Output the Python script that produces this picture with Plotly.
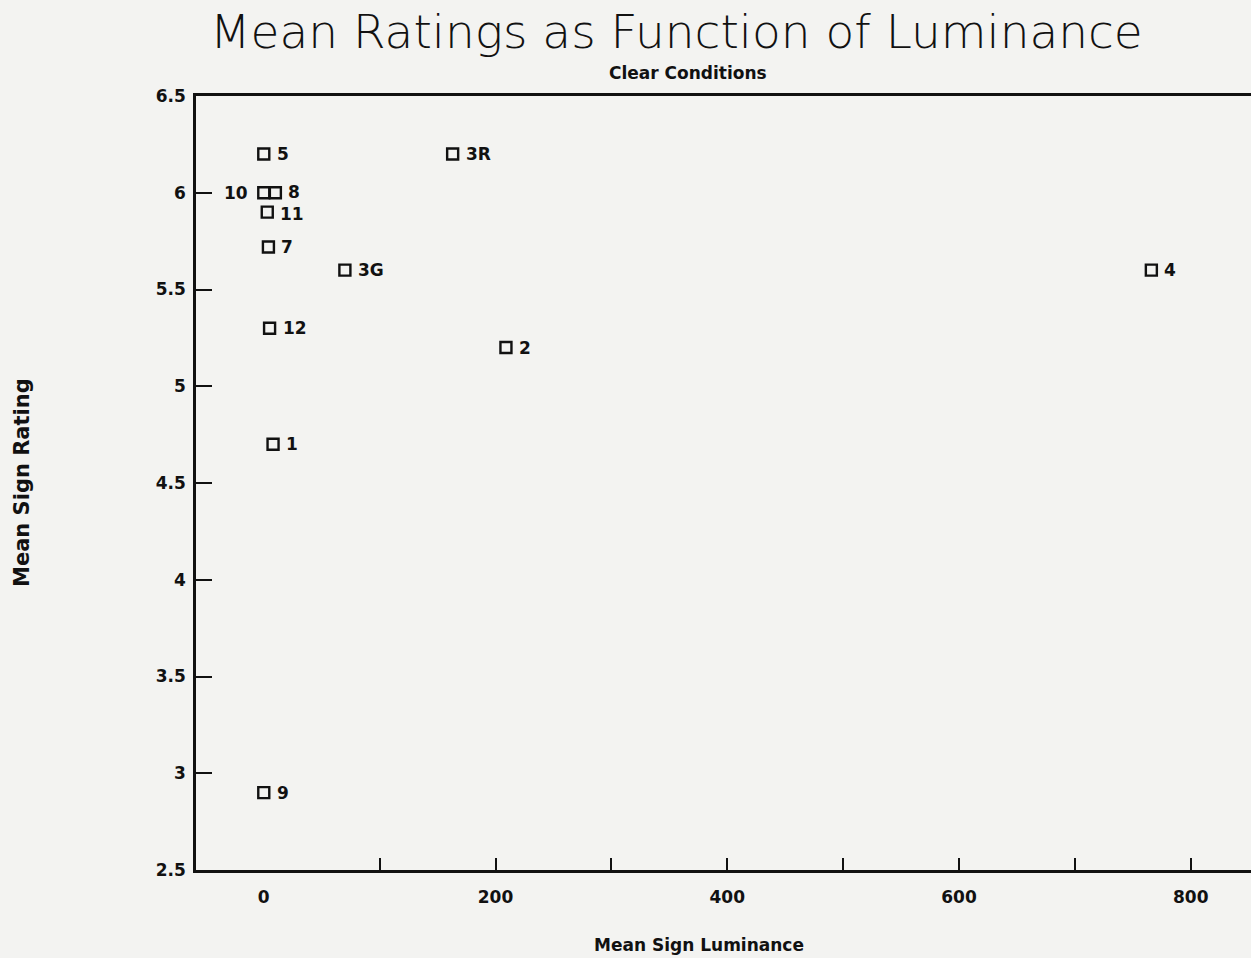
import plotly.graph_objects as go

# Sign identifiers, mean luminance and mean rating (clear conditions)
sign_ids = ["5", "3R", "10", "8", "11", "7", "3G", "4", "12", "2", "1", "9"]
luminance = [0, 163, 0, 10, 3, 4, 70, 766, 5, 209, 8, 0]
rating = [6.2, 6.2, 6.0, 6.0, 5.9, 5.72, 5.6, 5.6, 5.3, 5.2, 4.7, 2.9]

# Labels drawn on the left of their marker
left_labels = {"10"}
# Small vertical nudges for crowded labels (pixels)
label_yshift = {"8": 1, "11": -2}

x_tick_vals = [0, 200, 400, 600, 800]
x_mark_vals = [100, 200, 300, 400, 500, 600, 700, 800]
y_tick_vals = [2.5, 3, 3.5, 4, 4.5, 5, 5.5, 6, 6.5]
y_tick_text = ["2.5", "3", "3.5", "4", "4.5", "5", "5.5", "6", "6.5"]

x_range = [-58.5, 852]

bg = "#f3f3f1"
ink = "#111111"
label_font = dict(family="DejaVu Sans", size=17, color=ink, weight="bold")

W, H = 1251, 958
L, R, T, B = 196, 0, 96, 88
PW, PH = W - L - R, H - T - B

fig = go.Figure()
fig.add_trace(go.Scatter(
    x=luminance, y=rating, mode="markers",
    marker=dict(symbol="square-open", size=11, color=ink, line=dict(width=2.4, color=ink)),
    showlegend=False, hoverinfo="skip",
))
# invisible trace that carries the tick-mark axis
fig.add_trace(go.Scatter(
    x=[x_mark_vals[0]], y=[rating[0]], xaxis="x2", mode="markers",
    marker=dict(opacity=0), showlegend=False, hoverinfo="skip",
))

for name, xv, yv in zip(sign_ids, luminance, rating):
    left = name in left_labels
    fig.add_annotation(
        x=xv, y=yv, text=name, showarrow=False,
        xanchor="right" if left else "left", yanchor="middle",
        xshift=-14 if left else 11, yshift=label_yshift.get(name, 0),
        font=label_font,
    )

fig.update_layout(
    width=W, height=H,
    margin=dict(l=L, r=R, t=T, b=B),
    paper_bgcolor=bg, plot_bgcolor=bg,
    showlegend=False,
    font=dict(family="DejaVu Sans", color=ink),
    xaxis=dict(
        range=x_range, showgrid=False, zeroline=False,
        showline=True, linecolor=ink, linewidth=2.5, mirror=True,
        ticks="", tickvals=x_tick_vals, ticktext=[str(v) for v in x_tick_vals],
        tickfont=dict(family="DejaVu Sans", size=17, color=ink, weight="bold"),
        ticklabelstandoff=10,
    ),
    xaxis2=dict(
        range=x_range, overlaying="x", side="bottom", anchor="y",
        showgrid=False, zeroline=False, showline=False,
        ticks="inside", ticklen=12, tickwidth=2, tickcolor=ink,
        tickvals=x_mark_vals, showticklabels=False,
    ),
    yaxis=dict(
        range=[2.5, 6.5], showgrid=False, zeroline=False,
        showline=True, linecolor=ink, linewidth=2.5, mirror=False,
        ticks="inside", ticklen=16, tickwidth=2, tickcolor=ink,
        tickvals=y_tick_vals, ticktext=y_tick_text,
        tickfont=dict(family="DejaVu Sans", size=17, color=ink, weight="bold"),
        ticklabelstandoff=4,
    ),
)

# Title, subtitle and axis titles
fig.add_annotation(
    text="Mean Ratings as Function of Luminance", xref="paper", yref="paper",
    x=(676 - L) / PW, y=1 + (T - 31) / PH,
    showarrow=False, xanchor="center", yanchor="middle",
    font=dict(family="DejaVu Sans", size=47, color=ink, weight=200),
)
fig.add_annotation(
    text="Clear Conditions", xref="paper", yref="paper",
    x=(688 - L) / PW, y=1 + (T - 73) / PH,
    showarrow=False, xanchor="center", yanchor="middle",
    font=dict(family="DejaVu Sans", size=17, color=ink, weight="bold"),
)
fig.add_annotation(
    text="Mean Sign Luminance", xref="paper", yref="paper",
    x=(699 - L) / PW, y=-(945 - (H - B)) / PH,
    showarrow=False, xanchor="center", yanchor="middle",
    font=dict(family="DejaVu Sans", size=17, color=ink, weight="bold"),
)
fig.add_annotation(
    text="Mean Sign Rating", xref="paper", yref="paper",
    x=-(L - 22) / PW, y=((H - B) - 483) / PH,
    showarrow=False, xanchor="center", yanchor="middle", textangle=-90,
    font=dict(family="DejaVu Sans", size=21, color=ink, weight="bold"),
)

fig.write_html("out.html")
